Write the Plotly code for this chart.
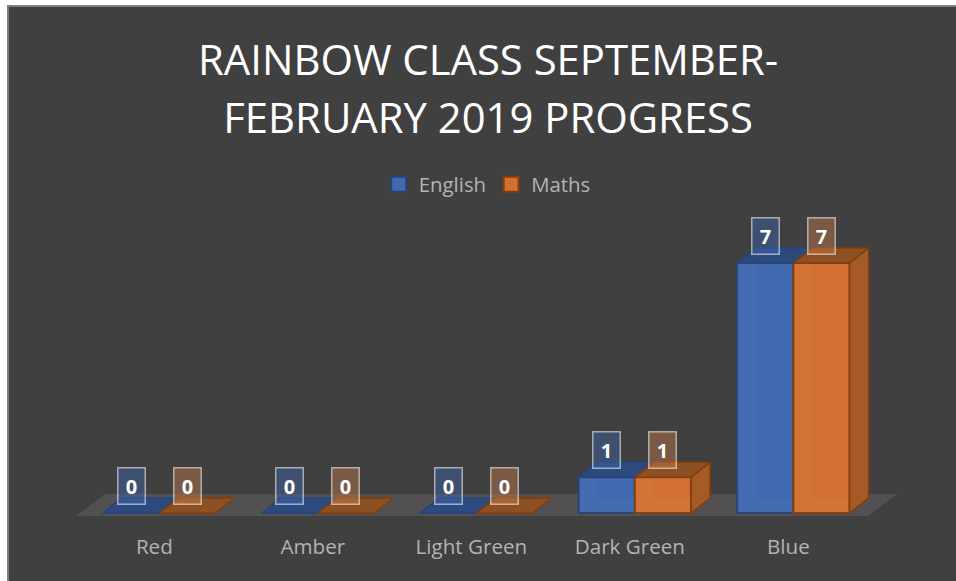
import plotly.graph_objects as go

categories = ["Red", "Amber", "Light Green", "Dark Green", "Blue"]
english = [0, 0, 0, 1, 7]
maths = [0, 0, 0, 1, 7]
title_lines = ["RAINBOW CLASS SEPTEMBER-", "FEBRUARY 2019 PROGRESS"]

BG = "#404040"
TEXT = "#b3b3b3"
FONT = "Open Sans"
BAR_W = 0.3546      # bar width in category units
DX, DY = 0.12, 0.42 # oblique depth of the 3-D look, in axis units
X = list(range(len(categories)))


def poly(points_per_bar):
    xs, ys = [], []
    for pts in points_per_bar:
        for a, b in pts + [pts[0]]:
            xs.append(a)
            ys.append(b)
        xs.append(None)
        ys.append(None)
    return xs, ys


def face(pts, fill, line, width=1.5):
    xs, ys = poly(pts)
    return go.Scatter(x=xs, y=ys, mode="lines", fill="toself", fillcolor=fill,
                      line=dict(color=line, width=width), hoverinfo="skip", showlegend=False)


series = [
    dict(name="English", vals=english, off=-1, front="#4169b0", edge="#264478",
         top="#2d4a7e", box="rgba(61,106,184,0.4)"),
    dict(name="Maths", vals=maths, off=0, front="#d27031", edge="#843c0c",
         top="#8c5022", box="rgba(209,129,74,0.4)"),
]

fig = go.Figure()

for s in series:
    fig.add_trace(go.Bar(x=X, y=s["vals"], name=s["name"], width=BAR_W, offset=s["off"] * BAR_W,
                         marker=dict(color=s["front"], line=dict(color=s["edge"], width=2)),
                         showlegend=False))

for s in series:
    x0s = [i + s["off"] * BAR_W for i in X]
    tops = [[(a, v), (a + DX, v + DY), (a + BAR_W + DX, v + DY), (a + BAR_W, v)]
            for a, v in zip(x0s, s["vals"])]
    fig.add_trace(face(tops, s["top"], s["edge"]))
    walls = [[(a, 0), (a + DX, DY), (a + DX, v), (a, v)]
             for a, v in zip(x0s, s["vals"]) if v > 0]
    bottoms = [[(a, 0), (a + DX, DY), (a + BAR_W, DY), (a + BAR_W, 0)]
               for a, v in zip(x0s, s["vals"]) if v > 0]
    fig.add_trace(face(walls + bottoms, "rgba(255,255,255,0.025)", "rgba(255,255,255,0.0)", 0))

sides = [[(i + BAR_W, v), (i + BAR_W + DX, v + DY), (i + BAR_W + DX, DY), (i + BAR_W, 0)]
         for i, v in zip(X, maths) if v > 0]
fig.add_trace(face(sides, "#a65b26", "#843c0c"))

for s in series:
    fig.add_trace(go.Scatter(x=[None], y=[None], mode="markers", name=s["name"],
                             marker=dict(symbol="square", size=15, color=s["front"],
                                         line=dict(color=s["edge"], width=2))))

annotations = []
for s in series:
    for i, v in zip(X, s["vals"]):
        annotations.append(dict(
            x=i + (s["off"] + 0.5) * BAR_W, y=v, xref="x", yref="y", text=f"<b>{v}</b>",
            showarrow=False, yshift=27, width=26, height=35, bgcolor=s["box"],
            bordercolor="rgba(255,255,255,0.55)", borderwidth=1.5, borderpad=0,
            font=dict(family=FONT, size=20, color="#ffffff"), align="center", valign="middle"))

floor_path = "M-0.5256,-0.084 L-0.3426,0.532 L4.654,0.532 L4.471,-0.084 Z"

fig.update_layout(
    width=949, height=576,
    margin=dict(l=0, r=0, t=0, b=56),
    paper_bgcolor=BG, plot_bgcolor=BG,
    font=dict(family=FONT, color=TEXT),
    title=dict(
        text="<br>".join(f"<span style='font-size:41.8px'>{t}</span>" for t in title_lines),
        font=dict(family=FONT, size=44.6, color="#ffffff"),
        x=0.507, xanchor="center", y=0.8785, yanchor="top"),
    barmode="overlay",
    xaxis=dict(range=[-0.961, 5.026], tickmode="array", tickvals=X, ticktext=categories,
               showgrid=False, zeroline=False, showline=False, ticks="outside", ticklen=3,
               ticklabelshift=-5,
               tickcolor="rgba(0,0,0,0)", tickfont=dict(family=FONT, size=20.6, color=TEXT)),
    yaxis=dict(range=[-0.336, 14.226], visible=False, showgrid=False, zeroline=False),
    legend=dict(orientation="h", x=0.506, xanchor="center", y=0.655, yanchor="middle",
                font=dict(family=FONT, size=20.4, color=TEXT), bgcolor="rgba(0,0,0,0)"),
    annotations=annotations,
    shapes=[
        dict(type="path", path=floor_path, xref="x", yref="y", layer="below",
             fillcolor="#525050", line=dict(width=0)),
        dict(type="line", xref="paper", yref="paper", x0=0.001, x1=0.001, y0=-0.11, y1=1,
             line=dict(color="#808080", width=2)),
        dict(type="line", xref="paper", yref="paper", x0=0, x1=1, y0=0.998, y1=0.998,
             line=dict(color="#808080", width=2)),
    ],
)

fig.write_html("out.html", config=dict(displayModeBar=False),
               post_script="document.body.style.margin='5px 0 0 7px';document.documentElement.style.overflow='hidden';")
